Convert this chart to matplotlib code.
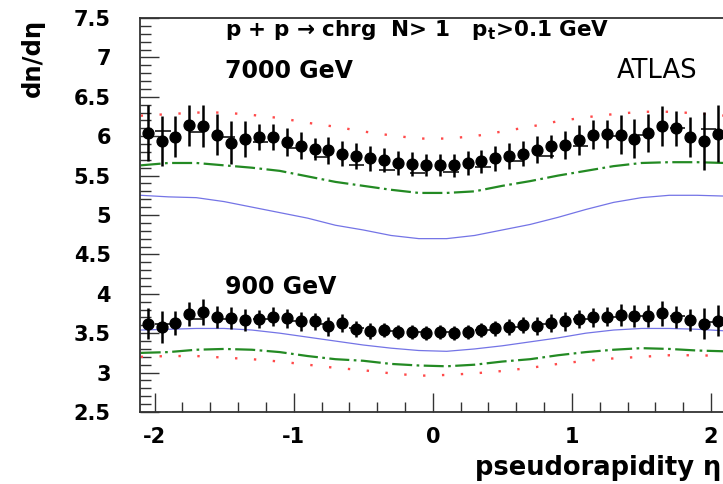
import matplotlib
matplotlib.use("Agg")
import matplotlib.pyplot as plt
from matplotlib.ticker import MultipleLocator, FormatStrFormatter

plt.rcParams["font.family"] = ["DejaVu Sans"]
plt.rcParams["axes.unicode_minus"] = False

# measured points (bin centres)
eta = [-2.05, -1.95, -1.85, -1.75, -1.65, -1.55, -1.45, -1.35, -1.25, -1.15, -1.05,
       -0.95, -0.85, -0.75, -0.65, -0.55, -0.45, -0.35, -0.25, -0.15, -0.05,
       0.05, 0.15, 0.25, 0.35, 0.45, 0.55, 0.65, 0.75, 0.85, 0.95,
       1.05, 1.15, 1.25, 1.35, 1.45, 1.55, 1.65, 1.75, 1.85, 1.95, 2.05]

data_7000 = [6.04, 5.94, 5.99, 6.14, 6.13, 6.02, 5.92, 5.96, 5.99, 5.99, 5.93,
             5.88, 5.84, 5.82, 5.78, 5.75, 5.72, 5.70, 5.66, 5.65, 5.63,
             5.64, 5.63, 5.66, 5.68, 5.72, 5.75, 5.78, 5.83, 5.87, 5.89,
             5.95, 6.02, 6.03, 6.02, 5.97, 6.04, 6.13, 6.10, 5.99, 5.94, 6.03]
err_7000 = [0.36, 0.32, 0.26, 0.26, 0.27, 0.26, 0.27, 0.23, 0.17, 0.16, 0.18,
            0.17, 0.14, 0.17, 0.16, 0.16, 0.16, 0.15, 0.15, 0.15, 0.14,
            0.14, 0.15, 0.15, 0.15, 0.16, 0.16, 0.16, 0.17, 0.15, 0.18,
            0.19, 0.18, 0.18, 0.25, 0.25, 0.24, 0.25, 0.22, 0.25, 0.37, 0.36]

data_900 = [3.62, 3.58, 3.63, 3.74, 3.77, 3.70, 3.69, 3.67, 3.68, 3.71, 3.69,
            3.65, 3.65, 3.59, 3.63, 3.55, 3.53, 3.54, 3.52, 3.51, 3.50,
            3.51, 3.50, 3.52, 3.54, 3.56, 3.58, 3.60, 3.59, 3.63, 3.65,
            3.68, 3.70, 3.71, 3.73, 3.72, 3.72, 3.75, 3.71, 3.67, 3.62, 3.66]
err_900 = [0.20, 0.20, 0.15, 0.15, 0.16, 0.14, 0.14, 0.14, 0.12, 0.12, 0.12,
           0.12, 0.11, 0.12, 0.11, 0.10, 0.10, 0.09, 0.09, 0.09, 0.09,
           0.09, 0.09, 0.09, 0.09, 0.10, 0.10, 0.10, 0.11, 0.11, 0.12,
           0.12, 0.12, 0.12, 0.14, 0.14, 0.14, 0.16, 0.14, 0.14, 0.20, 0.20]

# second (coarser) measurement drawn as short horizontal bars
bar_eta = [-1.94, -1.70, -1.48, -1.24, -1.00, -0.80, -0.55, -0.33, -0.11,
           0.13, 0.36, 0.60, 0.82, 1.06, 1.29, 1.53, 1.76, 1.98]
bar_7000 = [6.07, 6.05, 5.99, 5.93, 5.85, 5.74, 5.63, 5.57, 5.53,
            5.54, 5.61, 5.68, 5.75, 5.87, 6.00, 6.02, 6.10, 6.09]
bar_900 = [3.62, 3.68, 3.68, 3.68, 3.66, 3.62, 3.56, 3.53, 3.51,
           3.51, 3.54, 3.58, 3.62, 3.68, 3.71, 3.72, 3.72, 3.64]

# model curves
eta_th = [-2.1, -1.9, -1.7, -1.5, -1.3, -1.1, -0.9, -0.7, -0.5, -0.3, -0.1,
          0.1, 0.3, 0.5, 0.7, 0.9, 1.1, 1.3, 1.5, 1.7, 1.9, 2.1]
red_7000 = [6.26, 6.28, 6.30, 6.30, 6.27, 6.23, 6.17, 6.12, 6.06, 6.01, 5.97,
            5.97, 6.00, 6.06, 6.12, 6.19, 6.24, 6.28, 6.31, 6.31, 6.29, 6.26]
green_7000 = [5.63, 5.66, 5.66, 5.63, 5.60, 5.56, 5.49, 5.42, 5.37, 5.32, 5.28,
              5.28, 5.30, 5.37, 5.43, 5.50, 5.56, 5.62, 5.66, 5.67, 5.67, 5.66]
blue_7000 = [5.25, 5.23, 5.22, 5.17, 5.10, 5.03, 4.96, 4.87, 4.81, 4.74, 4.70,
             4.70, 4.74, 4.81, 4.88, 4.97, 5.07, 5.16, 5.22, 5.25, 5.25, 5.24]
red_900 = [3.20, 3.21, 3.21, 3.19, 3.17, 3.14, 3.10, 3.06, 3.03, 2.99, 2.96,
           2.97, 2.99, 3.02, 3.06, 3.11, 3.15, 3.18, 3.20, 3.22, 3.22, 3.21]
green_900 = [3.25, 3.26, 3.29, 3.30, 3.29, 3.26, 3.21, 3.17, 3.15, 3.11, 3.09,
             3.08, 3.10, 3.14, 3.17, 3.22, 3.26, 3.29, 3.31, 3.30, 3.28, 3.27]
blue_900 = [3.54, 3.55, 3.56, 3.56, 3.54, 3.50, 3.45, 3.40, 3.35, 3.31, 3.28,
            3.27, 3.30, 3.34, 3.39, 3.44, 3.50, 3.54, 3.56, 3.56, 3.55, 3.53]

RED = "#ff4a4a"
GREEN = "#238a23"
BLUE = "#7474e6"

fig = plt.figure(figsize=(7.23, 4.84), dpi=100)
# axis runs past the right border of the picture, as in the original crop
ax = fig.add_axes([0.1936, 0.1488, 0.8475, 0.814])

for red, green, blue in [(red_7000, green_7000, blue_7000), (red_900, green_900, blue_900)]:
    ax.plot(eta_th, red, color=RED, lw=1.7, linestyle=(0, (1, 7)))
    ax.plot(eta_th, green, color=GREEN, lw=1.6, linestyle=(0, (9, 2, 1.2, 2)))
    ax.plot(eta_th, blue, color=BLUE, lw=0.9)

for bars in (bar_7000, bar_900):
    ax.errorbar(bar_eta, bars, xerr=0.055, fmt="none", ecolor="black",
                elinewidth=1.1, capsize=0)

for vals, errs in ((data_7000, err_7000), (data_900, err_900)):
    ax.errorbar(eta, vals, yerr=errs, fmt="o", color="black", ms=7.8,
                elinewidth=1.8, capsize=0)

ax.set_xlim(-2.105, 2.3)
ax.set_ylim(2.5, 7.5)

ax.xaxis.set_major_locator(MultipleLocator(1))
ax.xaxis.set_minor_locator(MultipleLocator(0.2))
ax.yaxis.set_major_locator(MultipleLocator(0.5))
ax.yaxis.set_minor_locator(MultipleLocator(0.1))
ax.yaxis.set_major_formatter(FormatStrFormatter("%g"))
ax.xaxis.set_major_formatter(FormatStrFormatter("%g"))

ax.tick_params(which="both", direction="in", color="#333333", width=1.0)
ax.tick_params(axis="y", which="major", length=14, pad=21, labelsize=15)
ax.tick_params(axis="y", which="minor", length=8)
ax.tick_params(axis="x", which="major", length=14, pad=11, labelsize=15)
ax.tick_params(axis="x", which="minor", length=7)
for lab in ax.get_xticklabels() + ax.get_yticklabels():
    lab.set_fontweight("bold")

for side in ("left", "bottom", "top"):
    ax.spines[side].set_linewidth(1.3)
    ax.spines[side].set_color("#333333")
ax.spines["right"].set_visible(False)

fig.text(0.311, 0.938, r"p + p → chrg  N> 1   p$_{\mathbf{t}}$>0.1 GeV",
         fontsize=15.5, fontweight="bold", va="center")
fig.text(0.311, 0.853, "7000 GeV", fontsize=17, fontweight="bold", va="center")
fig.text(0.311, 0.407, "900 GeV", fontsize=17, fontweight="bold", va="center")
fig.text(0.853, 0.853, "ATLAS", fontsize=18.5, va="center")

fig.text(0.045, 0.962, "dn/dη", rotation=90, fontsize=17.5, fontweight="bold",
         ha="center", va="top")
fig.text(0.998, 0.033, "pseudorapidity η", fontsize=18.5, fontweight="bold",
         ha="right", va="center")

fig.savefig("out.png", dpi=100)
